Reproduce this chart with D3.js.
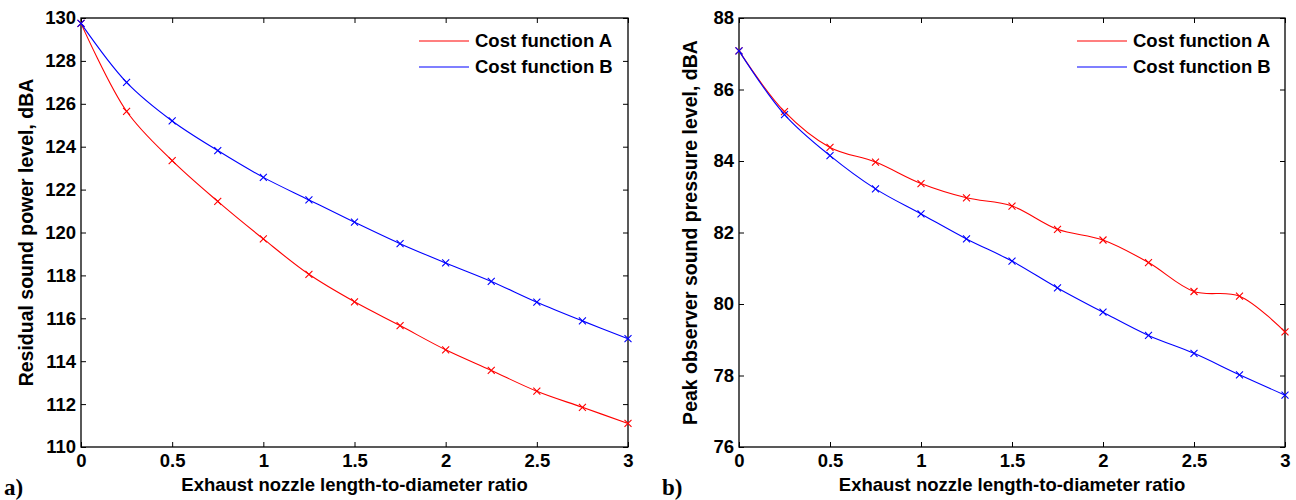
<!DOCTYPE html>
<html>
<head>
<meta charset="utf-8">
<script src="https://cdn.jsdelivr.net/npm/d3@7"></script>
<style>
body { margin:0; background:#fff; }
text { font-family: "Liberation Sans", Arial, sans-serif; font-weight:bold; fill:#000; }
.axis path, .axis line { stroke:#000; }
.tag { font-family: "Liberation Serif", "Times New Roman", serif; }
</style>
</head>
<body>
<script>
var width = 1296, height = 500;

var ratio = [0, 0.25, 0.5, 0.75, 1, 1.25, 1.5, 1.75, 2, 2.25, 2.5, 2.75, 3];
var xTicks = [0, 0.5, 1, 1.5, 2, 2.5, 3];

// panel a) residual sound power level
var powerA = [129.75, 125.65, 123.35, 121.45, 119.7, 118.05, 116.77, 115.66, 114.53, 113.57, 112.6, 111.85, 111.1];
var powerB = [129.75, 127.0, 125.2, 123.82, 122.57, 121.52, 120.48, 119.48, 118.58, 117.72, 116.75, 115.88, 115.05];
var powerTicks = [110, 112, 114, 116, 118, 120, 122, 124, 126, 128, 130];

// panel b) peak observer sound pressure level
var peakA = [87.08, 85.38, 84.38, 83.97, 83.37, 82.97, 82.74, 82.09, 81.79, 81.16, 80.35, 80.22, 79.22];
var peakB = [87.08, 85.3, 84.15, 83.22, 82.52, 81.82, 81.2, 80.45, 79.77, 79.12, 78.62, 78.02, 77.45];
var peakTicks = [76, 78, 80, 82, 84, 86, 88];

var seriesNames = ["Cost function A", "Cost function B"];
var seriesColors = ["#ff0000", "#0000ff"];

var svg = d3.select("body").append("svg")
    .attr("width", width)
    .attr("height", height);

function panel(left, right, ydom, yticks, ya, yb, ylabel, labelOff, tag, legendX) {
    var top = 18, bottom = 447;
    var x = d3.scaleLinear().domain([0, 3]).range([left, right]);
    var y = d3.scaleLinear().domain(ydom).range([bottom, top]);
    var g = svg.append("g");

    g.append("g").attr("class", "axis")
        .attr("transform", "translate(0," + bottom + ")")
        .call(d3.axisBottom(x).tickValues(xTicks).tickSizeInner(-5).tickSizeOuter(0).tickPadding(7).tickFormat(d3.format("")))
        .call(function(s){ s.selectAll("text").style("font-size", "18.5px").attr("font-family", null); });
    g.append("g").attr("class", "axis")
        .attr("transform", "translate(0," + top + ")")
        .call(d3.axisTop(x).tickValues(xTicks).tickSizeInner(-5).tickSizeOuter(0).tickFormat(""));
    g.append("g").attr("class", "axis")
        .attr("transform", "translate(" + left + ",0)")
        .call(d3.axisLeft(y).tickValues(yticks).tickSizeInner(-5).tickSizeOuter(0).tickPadding(5).tickFormat(d3.format("d")))
        .call(function(s){ s.selectAll("text").style("font-size", "18.5px").attr("font-family", null); });
    g.append("g").attr("class", "axis")
        .attr("transform", "translate(" + right + ",0)")
        .call(d3.axisRight(y).tickValues(yticks).tickSizeInner(-5).tickSizeOuter(0).tickFormat(""));
    g.selectAll(".domain").remove();
    g.append("rect")
        .attr("x", left).attr("y", top)
        .attr("width", right - left).attr("height", bottom - top)
        .attr("fill", "none").attr("stroke", "#000").attr("stroke-width", 1.3);

    var line = d3.line()
        .x(function(d){ return x(d[0]); })
        .y(function(d){ return y(d[1]); })
        .curve(d3.curveCatmullRom);

    [ya, yb].forEach(function(vals, i){
        var pts = ratio.map(function(r, k){ return [r, vals[k]]; });
        g.append("path").datum(pts)
            .attr("d", line)
            .attr("fill", "none")
            .attr("stroke", seriesColors[i])
            .attr("stroke-width", 1.1);
        g.selectAll(".mk" + i).data(pts).enter().append("path")
            .attr("class", "mk" + i)
            .attr("transform", function(d){ return "translate(" + x(d[0]) + "," + y(d[1]) + ")"; })
            .attr("d", "M-3.5,-3.5L3.5,3.5M-3.5,3.5L3.5,-3.5")
            .attr("stroke", seriesColors[i])
            .attr("stroke-width", 1.1);
    });

    // legend
    seriesNames.forEach(function(name, i){
        var ly = 41 + i * 26;
        g.append("line")
            .attr("x1", legendX).attr("x2", legendX + 50)
            .attr("y1", ly).attr("y2", ly)
            .attr("stroke", seriesColors[i]).attr("stroke-width", 1.1);
        g.append("text")
            .attr("x", legendX + 56).attr("y", ly)
            .attr("dy", "0.35em")
            .style("font-size", "18.5px")
            .text(name);
    });

    g.append("text")
        .attr("transform", "translate(" + (left - labelOff) + "," + ((top + bottom) / 2) + ") rotate(-90)")
        .attr("text-anchor", "middle")
        .style("font-size", "19.5px")
        .text(ylabel);
    g.append("text")
        .attr("x", (left + right) / 2).attr("y", 491)
        .attr("text-anchor", "middle")
        .style("font-size", "18.5px")
        .text("Exhaust nozzle length-to-diameter ratio");
    g.append("text")
        .attr("class", "tag")
        .attr("x", left - 77).attr("y", 495)
        .style("font-size", "23px")
        .text(tag);
}

panel(81, 628, [110, 130], powerTicks, powerA, powerB, "Residual sound power level, dBA", 48, "a)", 419);
panel(739, 1285, [76, 88], peakTicks, peakA, peakB, "Peak observer sound pressure level, dBA", 42, "b)", 1077);
</script>
</body>
</html>
